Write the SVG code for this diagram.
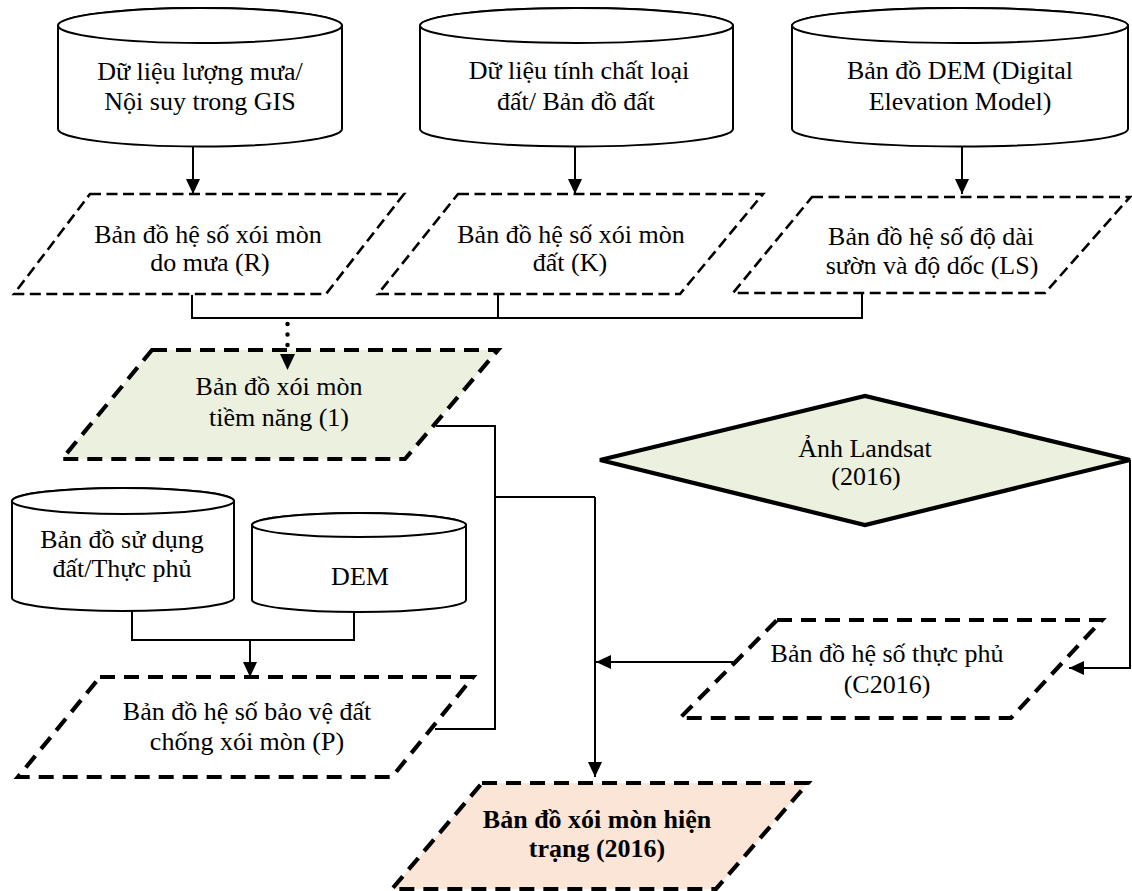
<svg xmlns="http://www.w3.org/2000/svg" width="1132" height="891" viewBox="0 0 1132 891">
<defs>
<style>
text{font-family:"Liberation Serif","Times New Roman",serif;font-size:26px;fill:#000;text-anchor:middle}
.b{font-weight:bold}
.cyl{fill:#fff;stroke:#000;stroke-width:2}
.pt{fill:#fff;stroke:#000;stroke-width:2.6;stroke-dasharray:11 5.5}
.pk{stroke:#000;stroke-width:4.2;stroke-dasharray:15 9}
.ln{fill:none;stroke:#000;stroke-width:2}
</style>
<marker id="arr" markerWidth="16" markerHeight="14" refX="15" refY="7" orient="auto" markerUnits="userSpaceOnUse">
<path d="M0,0 L15,7 L0,14 z" fill="#000"/>
</marker>
</defs>
<rect width="1132" height="891" fill="#fff"/>

<g id="cyl-rain">
<path class="cyl" d="M58,25.5 V129 A142,17.5 0 0 0 342,129 V25.5 A142,17.5 0 0 0 58,25.5 Z"/>
<ellipse class="cyl" cx="200" cy="25.5" rx="142" ry="17.5"/>
<text x="200" y="80">Dữ liệu lượng mưa/</text>
<text x="200" y="110">Nội suy trong GIS</text>
</g>
<g id="cyl-soil">
<path class="cyl" d="M420,25.5 V129 A156.5,17.5 0 0 0 733,129 V25.5 A156.5,17.5 0 0 0 420,25.5 Z"/>
<ellipse class="cyl" cx="576.5" cy="25.5" rx="156.5" ry="17.5"/>
<text x="579" y="79">Dữ liệu tính chất loại</text>
<text x="576" y="110">đất/ Bản đồ đất</text>
</g>
<g id="cyl-dem">
<path class="cyl" d="M792,25.5 V129 A168,17.5 0 0 0 1128,129 V25.5 A168,17.5 0 0 0 792,25.5 Z"/>
<ellipse class="cyl" cx="960" cy="25.5" rx="168" ry="17.5"/>
<text x="960" y="79">Bản đồ DEM (Digital</text>
<text x="960" y="110">Elevation Model)</text>
</g>

<g id="par-R">
<polygon class="pt" points="90,194 404,194 326,294 14,294"/>
<text x="208" y="243">Bản đồ hệ số xói mòn</text>
<text x="210" y="271">do mưa (R)</text>
</g>
<g id="par-K">
<polygon class="pt" points="458,194 763,194 680,294 378,294"/>
<text x="571" y="243">Bản đồ hệ số xói mòn</text>
<text x="570" y="271">đất (K)</text>
</g>
<g id="par-LS">
<polygon class="pt" points="812,197 1130,197 1045,293 733,293"/>
<text x="931" y="245">Bản đồ hệ số độ dài</text>
<text x="932" y="274">sườn và độ dốc (LS)</text>
</g>

<g id="par-potential">
<polygon class="pk" fill="#ebf1de" points="152,350 498,350 405,459 62,459"/>
<text x="279" y="395">Bản đồ xói mòn</text>
<text x="279" y="426">tiềm năng (1)</text>
</g>

<g id="diamond-landsat">
<polygon fill="#ebf1de" stroke="#000" stroke-width="4.2" stroke-linejoin="miter" points="600,460 865,396 1130,460 865,525"/>
<text x="865" y="457">Ảnh Landsat</text>
<text x="866" y="485">(2016)</text>
</g>

<g id="cyl-landuse">
<path class="cyl" d="M12,501 V598 A111,13 0 0 0 234,598 V501 A111,13 0 0 0 12,501 Z"/>
<ellipse class="cyl" cx="123" cy="501" rx="111" ry="13"/>
<text x="122" y="548">Bản đồ sử dụng</text>
<text x="122" y="577">đất/Thực phủ</text>
</g>
<g id="cyl-dem2">
<path class="cyl" d="M252,525 V600 A107,12 0 0 0 466,600 V525 A107,12 0 0 0 252,525 Z"/>
<ellipse class="cyl" cx="359" cy="525" rx="107" ry="12"/>
<text x="360" y="585">DEM</text>
</g>

<g id="par-P">
<polygon class="pk" fill="#fff" points="100,677 473,677 392,777 18,777"/>
<text x="247" y="720">Bản đồ hệ số bảo vệ đất</text>
<text x="247" y="750">chống xói mòn (P)</text>
</g>

<g id="par-C">
<polygon class="pk" fill="#fff" points="777,620 1102,620 1011,718 680,718"/>
<text x="887" y="662">Bản đồ hệ số thực phủ</text>
<text x="887" y="693">(C2016)</text>
</g>

<g id="par-current">
<polygon class="pk" fill="#fbe5d6" points="482,783 808,783 716,889 392,889"/>
<text class="b" x="597" y="828">Bản đồ xói mòn hiện</text>
<text class="b" x="597" y="857">trạng (2016)</text>
</g>

<g id="connectors">
<line class="ln" x1="193" y1="147" x2="193" y2="194" marker-end="url(#arr)"/>
<line class="ln" x1="575" y1="147" x2="575" y2="194" marker-end="url(#arr)"/>
<line class="ln" x1="962" y1="147" x2="962" y2="194" marker-end="url(#arr)"/>
<path class="ln" d="M192,295 V318 M498,295 V318 M862,294 V318 M191,318 H863"/>
<line x1="287.5" y1="324" x2="287.5" y2="352" stroke="#000" stroke-width="4.5" stroke-linecap="round" stroke-dasharray="0 10.5"/>
<polygon points="280,354 295,354 287.5,370" fill="#000"/>
<path class="ln" d="M436,426 H495 V729 H435"/>
<path class="ln" d="M495,497 H595"/>
<line class="ln" x1="595" y1="497" x2="595" y2="777" marker-end="url(#arr)"/>
<line class="ln" x1="733" y1="662" x2="596" y2="662" marker-end="url(#arr)"/>
<path class="ln" d="M1130,460 V668 H1069" marker-end="url(#arr)"/>
<path class="ln" d="M132,611 V640 H354 V612"/>
<line class="ln" x1="250" y1="640" x2="250" y2="677" marker-end="url(#arr)"/>
</g>
</svg>
